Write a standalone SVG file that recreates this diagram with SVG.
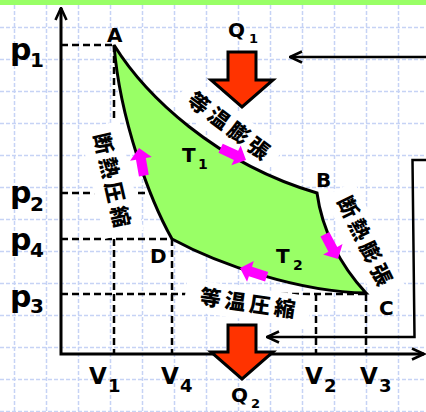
<svg xmlns="http://www.w3.org/2000/svg" width="426" height="412" viewBox="0 0 426 412">
<defs>
<style>
.grid{fill:none;stroke:#c6d3f5;stroke-width:1.5;stroke-dasharray:4 2}
.dash{fill:none;stroke:#000;stroke-width:2.5;stroke-dasharray:7 4}
.ax{fill:none;stroke:#000;stroke-width:3}
.con{fill:none;stroke:#000;stroke-width:2.5}
.wb{fill:#fff}
.lab{font-family:"DejaVu Sans",Verdana,sans-serif;font-weight:bold;fill:#000}
.jp{font-family:"Noto Sans CJK JP","Noto Sans CJK SC",sans-serif;font-weight:900;font-size:21px;letter-spacing:4px;text-anchor:middle;fill:#000}
.red{fill:#ff3300;stroke:#000;stroke-width:3;stroke-linejoin:miter}
.mag{fill:#ff00ff}
</style>
<marker id="open" viewBox="0 0 15 14" refX="13.5" refY="7" markerWidth="15" markerHeight="14" markerUnits="userSpaceOnUse" orient="auto-start-reverse">
<path d="M1.5,1.5 L13.5,7 L1.5,12.5" fill="none" stroke="#000" stroke-width="2.6"/>
</marker>
<path id="marr" d="M0,0 L-11,-11 L-11,-5 L-28,-5 L-28,5 L-11,5 L-11,11 Z"/>
</defs>

<rect x="0" y="0" width="426" height="412" fill="#fff"/>
<rect x="0" y="0" width="426" height="5" fill="#99ff66"/>
<path class="grid" d="M14.5,5V412M46.5,5V412M78.5,5V412M110.5,5V412M142.5,5V412M174.5,5V412M206.5,5V412M238.5,5V412M270.5,5V412M302.5,5V412M334.5,5V412M366.5,5V412M398.5,5V412M0,27.5H426M0,59.5H426M0,91.5H426M0,123.5H426M0,155.5H426M0,187.5H426M0,219.5H426M0,251.5H426M0,283.5H426M0,315.5H426M0,347.5H426M0,379.5H426M0,411.5H426"/>

<g id="guides">
<path class="dash" d="M61,45H114M114,45V118M61,193H156M61,239H172M114,239V354M172,239V354M61,294H366M316,294V354M366,294V354"/>
</g>

<g id="label-boxes">
<rect class="wb" x="-58" y="-17" width="116" height="34" transform="translate(228.5,126) rotate(37)"/>
<rect class="wb" x="-56" y="-20" width="112" height="40" transform="translate(111.5,180) rotate(77)"/>
<rect class="wb" x="-58" y="-17" width="116" height="34" transform="translate(364.5,241) rotate(64)"/>
<rect class="wb" x="-63" y="-16" width="126" height="32" transform="translate(247.5,303.5) rotate(8)"/>
</g>

<g id="axes">
<path class="ax" d="M61,8 L61,354 L424,354" marker-start="url(#open)" marker-end="url(#open)"/>
</g>

<g id="cycle">
<path d="M114,45 C145,95 215,163 317,193 C322,230 340,265 366,293 C300,292 220,265 172,239 C150,200 120,120 114,45 Z" fill="#99ff66" stroke="#000" stroke-width="3" stroke-linejoin="miter"/>
</g>

<g id="connectors">
<path class="con" d="M426,57 H290" marker-end="url(#open)"/>
<path class="con" d="M426,160 H412.5 L414.5,337 H267" marker-end="url(#open)"/>
<use href="#marr" class="mag" transform="translate(139,148) rotate(-100)"/>
<use href="#marr" class="mag" transform="translate(246,160) rotate(25)"/>
<use href="#marr" class="mag" transform="translate(338,259) rotate(62)"/>
<use href="#marr" class="mag" transform="translate(240,268) rotate(198)"/>
</g>

<g id="Q1">
<path class="red" d="M228,52 L256,52 L256,80 L273,80 L242,107 L211,80 L228,80 Z"/>
<text class="lab" font-size="20" x="228" y="37">Q<tspan font-size="13" x="249" y="43">1</tspan></text>
</g>
<g id="Q2">
<path class="red" d="M228,325 L256,325 L256,352 L273,352 L242,379 L211,352 L228,352 Z"/>
<text class="lab" font-size="20" x="231" y="402">Q<tspan font-size="13" x="251" y="408">2</tspan></text>
</g>

<g id="A"><text class="lab" font-size="20" x="107" y="42">A</text></g>
<g id="B"><text class="lab" font-size="20" x="316" y="187">B</text></g>
<g id="C"><text class="lab" font-size="20" x="379" y="315">C</text></g>
<g id="D"><text class="lab" font-size="20" x="150" y="263">D</text></g>

<g id="T1"><text class="lab" font-size="20" x="182" y="162">T<tspan font-size="14" x="198" y="169">1</tspan></text></g>
<g id="T2"><text class="lab" font-size="20" x="276" y="263">T<tspan font-size="14" x="293" y="270">2</tspan></text></g>

<g id="p1"><text class="lab" font-size="30" x="10" y="60">p<tspan font-size="20" x="30" y="67">1</tspan></text></g>
<g id="p2"><text class="lab" font-size="30" x="10" y="203">p<tspan font-size="20" x="30" y="211">2</tspan></text></g>
<g id="p4"><text class="lab" font-size="30" x="10" y="250">p<tspan font-size="20" x="30" y="257">4</tspan></text></g>
<g id="p3"><text class="lab" font-size="30" x="10" y="307">p<tspan font-size="20" x="30" y="313">3</tspan></text></g>

<g id="V1"><text class="lab" font-size="23" x="89" y="384">V<tspan font-size="18" x="108" y="392">1</tspan></text></g>
<g id="V4"><text class="lab" font-size="23" x="161" y="384">V<tspan font-size="18" x="180" y="392">4</tspan></text></g>
<g id="V2"><text class="lab" font-size="23" x="305" y="384">V<tspan font-size="18" x="324" y="392">2</tspan></text></g>
<g id="V3"><text class="lab" font-size="23" x="360" y="384">V<tspan font-size="18" x="379" y="392">3</tspan></text></g>

<g id="label-isothermal-expansion" transform="translate(228.5,126) rotate(37)"><text class="jp" x="2" y="0" dy="0.35em">等温膨張</text></g>
<g id="label-adiabatic-compression" transform="translate(111.5,180) rotate(77)"><text class="jp" x="2" y="0" dy="0.35em">断熱圧縮</text></g>
<g id="label-adiabatic-expansion" transform="translate(364.5,241) rotate(64)"><text class="jp" x="2" y="0" dy="0.35em">断熱膨張</text></g>
<g id="label-isothermal-compression" transform="translate(247.5,303.5) rotate(8)"><text class="jp" x="2" y="0" dy="0.35em">等温圧縮</text></g>
</svg>
